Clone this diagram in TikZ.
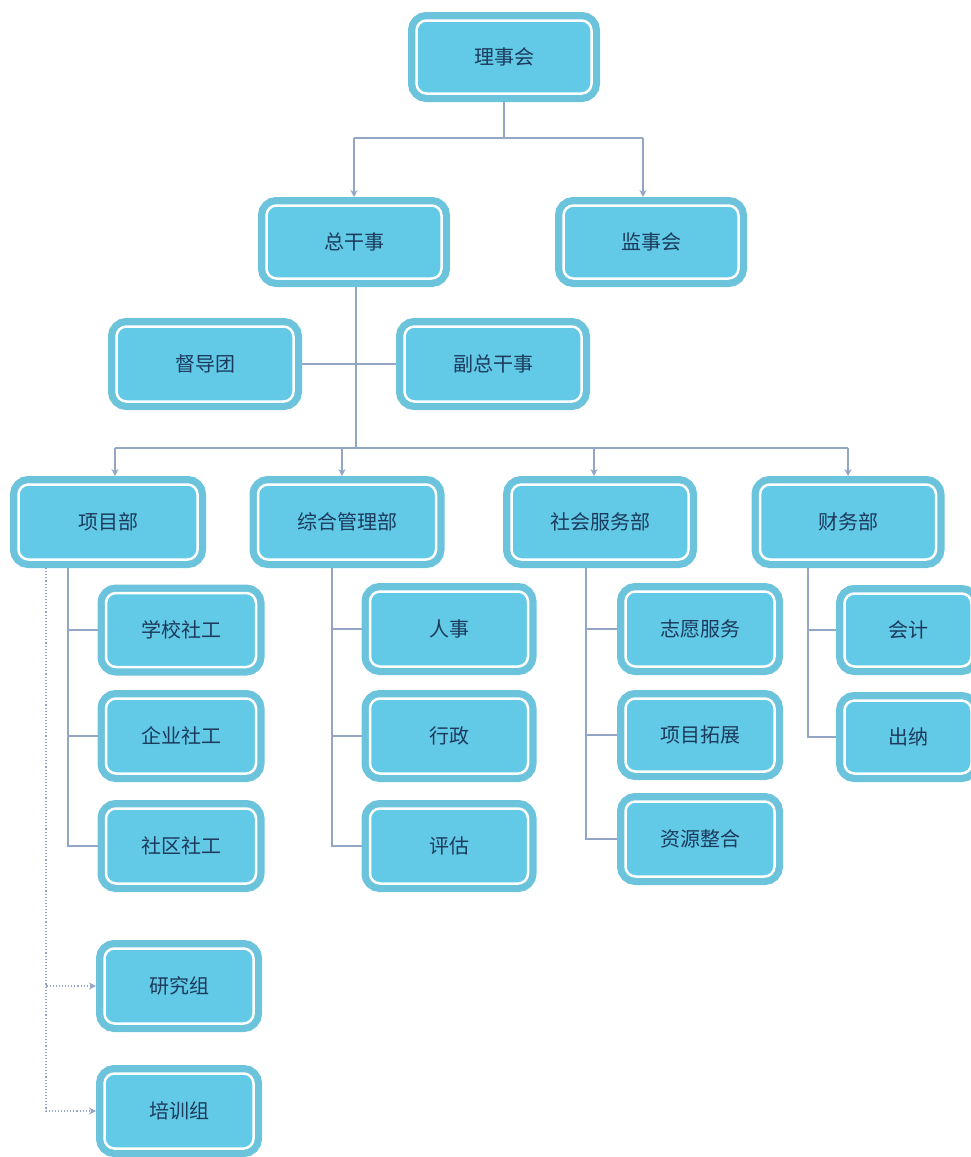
\documentclass[tikz,border=0pt]{standalone}
\usepackage{fontspec}
\newfontfamily\cjk{Noto Sans CJK SC}
\usetikzlibrary{arrows.meta}
\definecolor{ringblue}{HTML}{6CC4DC}
\definecolor{fillblue}{HTML}{62C9E6}
\definecolor{txtblue}{HTML}{1B3A5C}
\definecolor{linec}{HTML}{94A6C6}
\tikzset{
  orgbox/.style={rounded corners=10pt, fill=fillblue, draw=white, line width=2.5pt,
    preaction={draw=ringblue, line width=17pt},
    outer sep=8.5pt, inner sep=0pt, text=txtblue,
    font=\cjk\fontsize{20}{24}\selectfont},
  conn/.style={draw=linec, line width=1.1pt},
  arr/.style={conn, -{Stealth[length=7pt,width=7pt]}},
  dotarr/.style={draw=linec, line width=1.1pt, dotted, -{Stealth[length=7pt,width=7pt,sep=0pt]}}
}
\begin{document}
\begin{tikzpicture}[x=1pt,y=-1pt]
\useasboundingbox (0,0) rectangle (971,1157);
\clip (0,0) rectangle (971,1157);
% top levels
\node[orgbox, minimum width=175pt, minimum height=73pt] (ls) at (504,57) {理事会};
\node[orgbox, minimum width=175pt, minimum height=73pt] (zg) at (354,242) {总干事};
\node[orgbox, minimum width=175pt, minimum height=73pt] (js) at (651,242) {监事会};
\node[orgbox, minimum width=177pt, minimum height=75pt] (dd) at (205,364) {督导团};
\node[orgbox, minimum width=177pt, minimum height=75pt] (fz) at (493,364) {副总干事};
% departments
\node[orgbox, minimum width=179pt, minimum height=75pt] (xm) at (108,522) {项目部};
\node[orgbox, minimum width=178pt, minimum height=75pt] (zh) at (347,522) {综合管理部};
\node[orgbox, minimum width=177pt, minimum height=75pt] (sh) at (600,522) {社会服务部};
\node[orgbox, minimum width=176pt, minimum height=75pt] (cw) at (848,522) {财务部};
% project dept children
\node[orgbox, minimum width=150pt, minimum height=74pt] (xx) at (181,630) {学校社工};
\node[orgbox, minimum width=150pt, minimum height=75pt] (qy) at (181,736) {企业社工};
\node[orgbox, minimum width=150pt, minimum height=75pt] (sq) at (181,846) {社区社工};
\node[orgbox, minimum width=149pt, minimum height=75pt] (yj) at (179,986) {研究组};
\node[orgbox, minimum width=149pt, minimum height=75pt] (px) at (179,1111) {培训组};
% admin dept children
\node[orgbox, minimum width=158pt, minimum height=75pt] (rs) at (449,629) {人事};
\node[orgbox, minimum width=158pt, minimum height=75pt] (xz) at (449,736) {行政};
\node[orgbox, minimum width=158pt, minimum height=75pt] (pg) at (449,846) {评估};
% social service children
\node[orgbox, minimum width=149pt, minimum height=75pt] (zy) at (700,629) {志愿服务};
\node[orgbox, minimum width=149pt, minimum height=73pt] (tz) at (700,735) {项目拓展};
\node[orgbox, minimum width=149pt, minimum height=75pt] (zhg) at (700,839) {资源整合};
% finance children
\node[orgbox, minimum width=127pt, minimum height=73pt] (kj) at (908,630) {会计};
\node[orgbox, minimum width=127pt, minimum height=73pt] (cn) at (908,737) {出纳};
% connectors
\coordinate (j1) at (500,138);
\coordinate (j2) at (356,448);
\draw[conn] (ls.south) -- (ls.south |- j1);
\draw[conn] (zg.north |- j1) -- ([xshift=-8pt]js.north |- j1);
\draw[arr] (zg.north |- j1) -- (zg.north);
\draw[arr] ([xshift=-8pt]js.north |- j1) -- ([xshift=-8pt]js.north);
\draw[conn] ([xshift=2pt]zg.south) -- ([xshift=2pt]zg.south |- j2);
\draw[conn] (dd.east) -- (fz.west);
\draw[conn] ([xshift=7pt]xm.north |- j2) -- (cw.north |- j2);
\draw[arr] ([xshift=7pt]xm.north |- j2) -- ([xshift=7pt]xm.north);
\draw[arr] ([xshift=-5pt]zh.north |- j2) -- ([xshift=-5pt]zh.north);
\draw[arr] ([xshift=-6pt]sh.north |- j2) -- ([xshift=-6pt]sh.north);
\draw[arr] (cw.north |- j2) -- (cw.north);
% department children
\draw[conn] ([xshift=-40pt]xm.south) |- (xx.west);
\draw[conn] ([xshift=-40pt]xm.south) |- (qy.west);
\draw[conn] ([xshift=-40pt]xm.south) |- (sq.west);
\draw[dotarr] ([xshift=-62pt]xm.south) |- (yj.west);
\draw[dotarr] ([xshift=-62pt]xm.south) |- (px.west);
\draw[conn] ([xshift=-15pt]zh.south) |- (rs.west);
\draw[conn] ([xshift=-15pt]zh.south) |- (xz.west);
\draw[conn] ([xshift=-15pt]zh.south) |- (pg.west);
\draw[conn] ([xshift=-14pt]sh.south) |- (zy.west);
\draw[conn] ([xshift=-14pt]sh.south) |- (tz.west);
\draw[conn] ([xshift=-14pt]sh.south) |- (zhg.west);
\draw[conn] ([xshift=-40pt]cw.south) |- (kj.west);
\draw[conn] ([xshift=-40pt]cw.south) |- (cn.west);
\end{tikzpicture}
\end{document}
